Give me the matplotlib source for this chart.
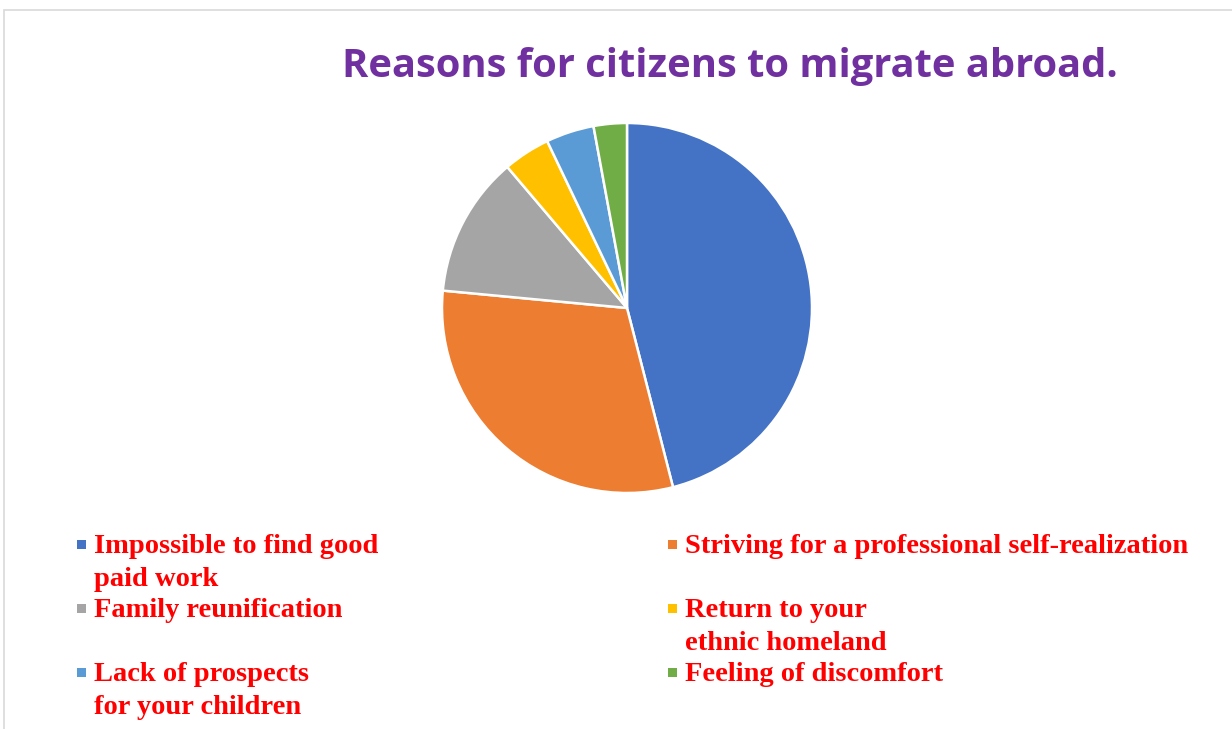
import matplotlib
matplotlib.use("Agg")
import matplotlib.pyplot as plt
from matplotlib.patches import Rectangle

# --- data ---
labels = [
    "Impossible to find good\npaid work",
    "Striving for a professional self-realization",
    "Family reunification",
    "Return to your\nethnic homeland",
    "Lack of prospects\nfor your children",
    "Feeling of discomfort",
]
shares = [46.0, 30.5, 12.3, 4.1, 4.2, 2.9]
colors = ["#4472C4", "#ED7D31", "#A5A5A5", "#FFC000", "#5B9BD5", "#70AD47"]
title = "Reasons for citizens to migrate abroad."

W, H = 1232, 729
fig = plt.figure(figsize=(W / 100, H / 100), dpi=100)
fig.patch.set_facecolor("white")


def fx(px):
    return px / W


def fy(py):
    return 1 - py / H


# chart frame
fig.patches.append(Rectangle((fx(4), fy(740)), fx(1240) - fx(4), fy(10) - fy(740),
                             transform=fig.transFigure, fill=False,
                             edgecolor="#D9D9D9", linewidth=1.2))

# pie
cx, cy, r = 627, 308, 185
ax = fig.add_axes([fx(cx - r), fy(cy + r), 2 * r / W, 2 * r / H])
ax.pie(shares, colors=colors, startangle=90, counterclock=False,
       wedgeprops=dict(edgecolor="white", linewidth=1.8))
ax.set_xlim(-1.0, 1.0)
ax.set_ylim(-1.0, 1.0)
ax.set_aspect("equal")
ax.axis("off")

fig.text(fx(730), fy(77), title, ha="center", va="baseline",
         fontsize=28.7, fontweight="bold", color="#7030A0", family="Open Sans")

# legend, two columns
col_text_x = [94, 685]
col_mark_x = [81.5, 672]
row_base = [553, 617, 681]
line_gap = 32.5
for i, (lab, col) in enumerate(zip(labels, colors)):
    row, c = divmod(i, 2)
    base = row_base[row]
    fig.patches.append(Rectangle((fx(col_mark_x[c] - 4.5), fy(base - 4)), 9 / W, 9 / H,
                                 transform=fig.transFigure, facecolor=col,
                                 edgecolor="none"))
    for k, line in enumerate(lab.split("\n")):
        fig.text(fx(col_text_x[c]), fy(base + k * line_gap), line, ha="left",
                 va="baseline", fontsize=20.5, fontweight="bold", color="#FF0000",
                 family="Liberation Serif")

fig.savefig("out.png", dpi=100, facecolor="white")
